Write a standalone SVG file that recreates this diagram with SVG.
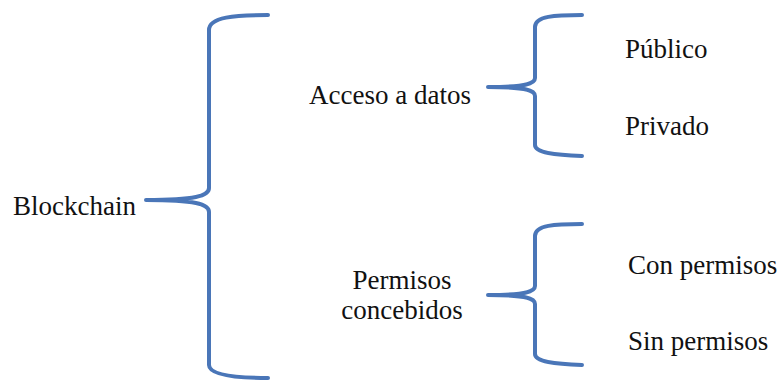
<svg xmlns="http://www.w3.org/2000/svg" width="779" height="381" viewBox="0 0 779 381">
<style>
.t{font-family:"Liberation Serif","Times New Roman",serif;font-size:27px;fill:#111}
.b{fill:none;stroke:#4A76B8;stroke-width:4;stroke-linecap:round;stroke-linejoin:round}
</style>
<rect width="779" height="381" fill="#fff"/>
<g id="connectors">
<path class="b" d="M268,15 C235,15 209,17 209,30 L209,188 C209,196 195,200 146,200 C195,200 209,204 209,212 L209,365 C209,375 235,378 268,378"/>
<path class="b" d="M582,15 C555,15 535,16 535,27 L535,78 C535,84 525,87 488,87 C525,87 535,90 535,96 L535,145 C535,153 555,155 582,156"/>
<path class="b" d="M582,224 C555,224 535,225 535,236 L535,286 C535,292 525,295 488,295 C525,295 535,298 535,304 L535,354 C535,362 555,364 582,365"/>
</g>
<g id="blockchain"><text class="t" x="13" y="215">Blockchain</text></g>
<g id="acceso"><text class="t" x="309" y="104">Acceso a datos</text></g>
<g id="permisos"><text class="t" x="402" y="289" text-anchor="middle">Permisos</text><text class="t" x="402" y="319" text-anchor="middle">concebidos</text></g>
<g id="publico"><text class="t" x="625" y="58">Público</text></g>
<g id="privado"><text class="t" x="625" y="135">Privado</text></g>
<g id="con"><text class="t" x="628" y="274">Con permisos</text></g>
<g id="sin"><text class="t" x="628" y="350">Sin permisos</text></g>
</svg>
